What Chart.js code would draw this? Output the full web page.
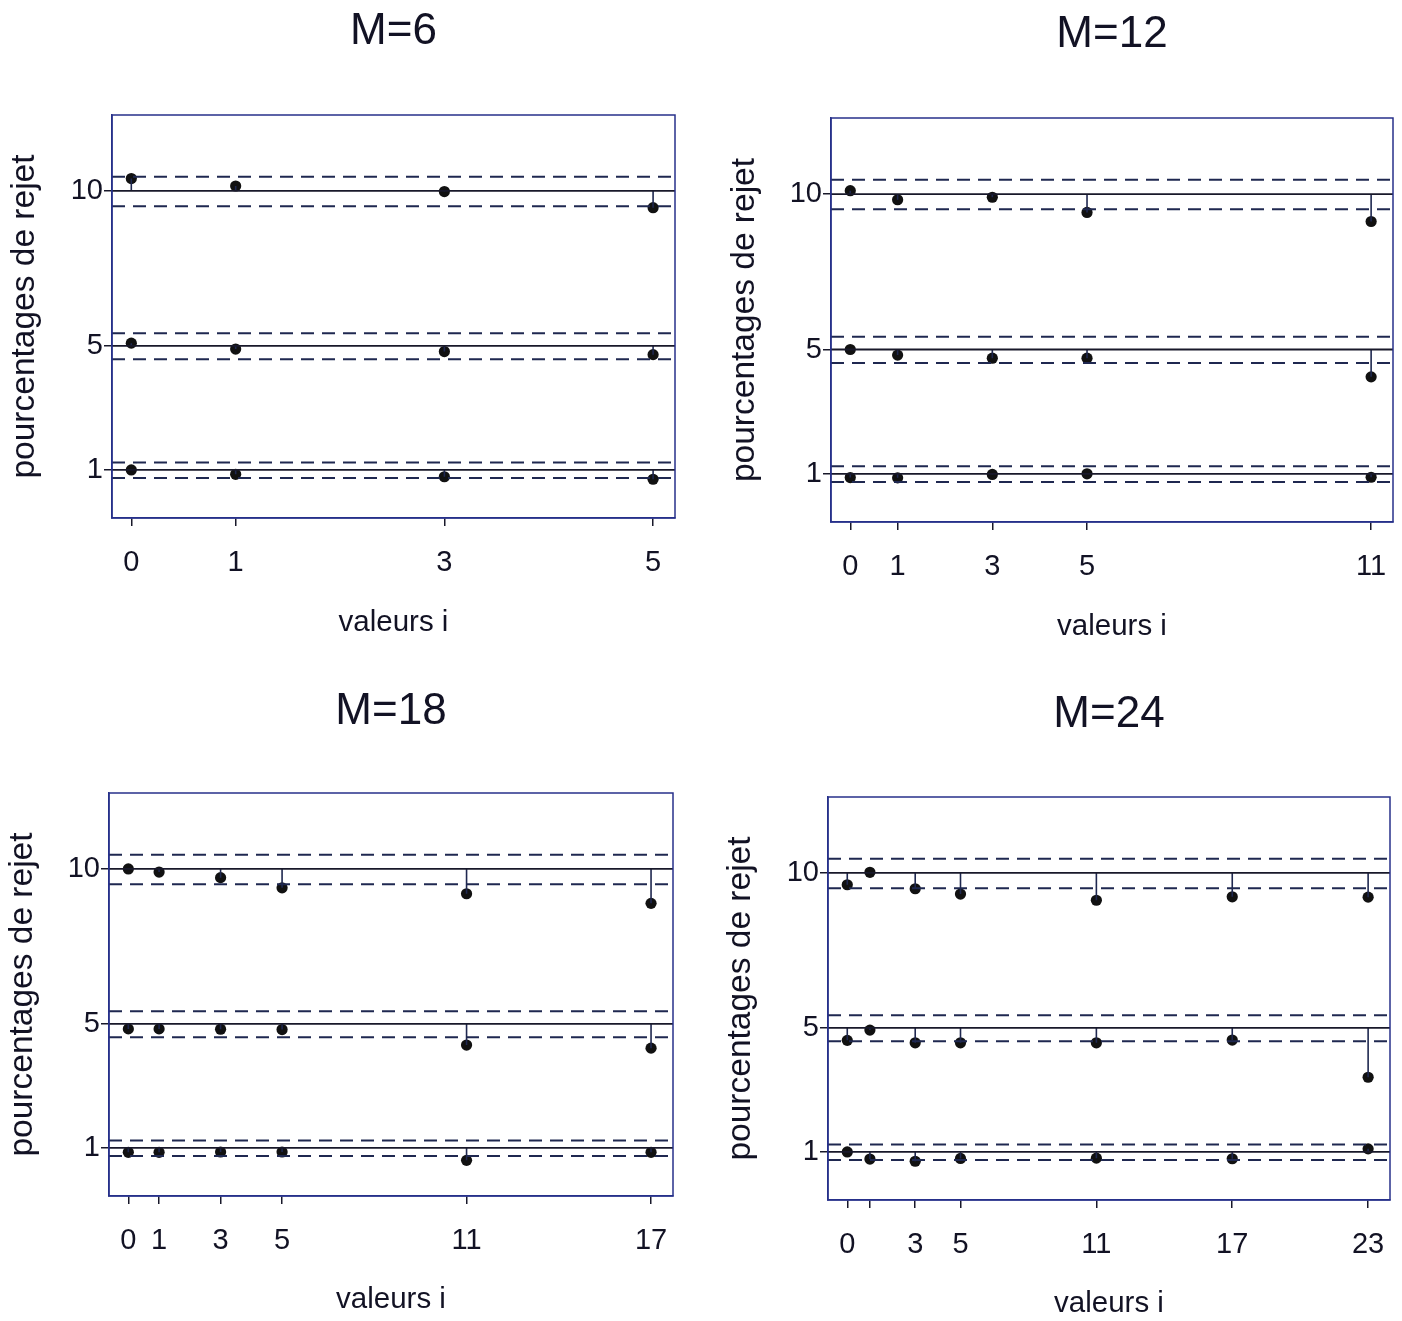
<!DOCTYPE html>
<html>
<head>
<meta charset="utf-8">
<script src="https://cdn.jsdelivr.net/npm/chart.js@4.4.1/dist/chart.umd.min.js"></script>
<style>
  html, body { margin: 0; padding: 0; background: #fff; overflow: hidden; width: 1402px; height: 1321px; }
  canvas { position: absolute; }
</style>
</head>
<body>
<canvas id="chartM6" width="787" height="660" style="left:0;top:0"></canvas>
<canvas id="chartM12" width="780" height="660" style="left:722px;top:0"></canvas>
<canvas id="chartM18" width="782" height="661" style="left:0;top:660px"></canvas>
<canvas id="chartM24" width="778" height="661" style="left:720px;top:660px"></canvas>
<script>
// nominal levels and their dashed bounds
const levels = [10, 5, 1];
const upperBounds = [10.46, 5.41, 1.24];
const lowerBounds = [9.51, 4.57, 0.74];
const yTicks = [1, 5, 10];

// M=6
const xM6 = [0, 1, 3, 5];
const labelsM6 = [0, 1, 3, 5];
const r10M6 = [10.40, 10.16, 9.98, 9.46];
const r5M6 = [5.09, 4.90, 4.82, 4.72];
const r1M6 = [1.00, 0.86, 0.78, 0.70];

// M=12
const xM12 = [0, 1, 3, 5, 11];
const labelsM12 = [0, 1, 3, 5, 11];
const r10M12 = [10.11, 9.82, 9.90, 9.41, 9.12];
const r5M12 = [5.00, 4.82, 4.72, 4.72, 4.12];
const r1M12 = [0.88, 0.87, 0.98, 1.00, 0.89];

// M=18
const xM18 = [0, 1, 3, 5, 11, 17];
const labelsM18 = [0, 1, 3, 5, 11, 17];
const r10M18 = [10.00, 9.90, 9.72, 9.39, 9.20, 8.89];
const r5M18 = [4.84, 4.84, 4.83, 4.82, 4.32, 4.22];
const r1M18 = [0.86, 0.86, 0.87, 0.87, 0.60, 0.86];

// M=24
const xM24 = [0, 1, 3, 5, 11, 17, 23];
const labelsM24 = [0, 3, 5, 11, 17, 23];
const r10M24 = [9.62, 10.02, 9.49, 9.32, 9.12, 9.23, 9.22];
const r5M24 = [4.60, 4.93, 4.52, 4.52, 4.52, 4.61, 3.41];
const r1M24 = [1.00, 0.77, 0.70, 0.79, 0.80, 0.78, 1.10];

const FONT = "'Liberation Sans', Arial, sans-serif";
const colors = {
  text: "#121224",
  frame: "#27318a",
  solid: "#18182a",
  dashed: "#1f2850",
  point: "#111111",
};

const framePlugin = {
  id: "frame",
  afterDraw(chart) {
    const { ctx, chartArea: a } = chart;
    ctx.save();
    ctx.strokeStyle = colors.frame;
    ctx.lineWidth = 1.5;
    ctx.strokeRect(a.left, a.top, a.right - a.left, a.bottom - a.top);
    ctx.restore();
  },
};

function makePanel(id, title, xs, xLabels, series, lay) {
  const last = xs[xs.length - 1];
  const xMin = -0.037 * last;
  const xMax = last * 1.042;
  const datasets = [];
  levels.forEach((lvl, k) => {
    const line = (y, dash, width) => ({
      data: [{ x: xMin, y: y }, { x: xMax, y: y }],
      borderColor: dash ? colors.dashed : colors.solid,
      borderWidth: width,
      borderDash: dash ? [13, 8] : [],
      pointRadius: 0,
    });
    datasets.push(line(lvl, false, 1.8));
    datasets.push(line(upperBounds[k], true, 2));
    datasets.push(line(lowerBounds[k], true, 2));
    const stems = [];
    xs.forEach((x, i) => {
      stems.push({ x: x, y: lvl }, { x: x, y: series[k][i] }, { x: x, y: null });
    });
    datasets.push({
      data: stems,
      borderColor: colors.dashed,
      borderWidth: 1.6,
      pointRadius: 0,
      spanGaps: false,
    });
    datasets.push({
      data: xs.map((x, i) => ({ x: x, y: series[k][i] })),
      showLine: false,
      pointRadius: 5.6,
      pointBackgroundColor: colors.point,
      pointBorderColor: colors.point,
      pointBorderWidth: 0,
    });
  });

  const tickGrid = { drawOnChartArea: false, drawTicks: true, tickLength: 8, color: colors.solid, lineWidth: 1.5 };

  new Chart(document.getElementById(id), {
    type: "line",
    data: { datasets },
    plugins: [framePlugin],
    options: {
      responsive: false,
      animation: false,
      devicePixelRatio: 1,
      layout: { padding: 0 },
      plugins: {
        legend: { display: false },
        tooltip: { enabled: false },
        title: {
          display: true,
          text: title,
          color: colors.text,
          font: { family: FONT, size: 44, weight: "normal", lineHeight: 1.2 },
          padding: { top: lay.tTop, bottom: lay.tBottom },
        },
      },
      scales: {
        x: {
          type: "linear",
          min: xMin,
          max: xMax,
          afterBuildTicks: (s) => { s.ticks = xs.map((v) => ({ value: v })); },
          afterFit: (s) => { s.height = lay.xH; },
          ticks: {
            color: colors.text,
            font: { family: FONT, size: 29 },
            padding: 19.5,
            maxRotation: 0,
            autoSkip: false,
            callback: (v) => (xLabels.includes(v) ? String(v) : ""),
          },
          grid: tickGrid,
          border: { display: true, color: colors.frame, width: 1.5 },
          title: {
            display: true,
            text: "valeurs i",
            color: colors.text,
            font: { family: FONT, size: 29.5, lineHeight: 1 },
            padding: { top: 0, bottom: lay.xtPad },
          },
        },
        y: {
          type: "linear",
          min: -0.55,
          max: 12.45,
          afterBuildTicks: (s) => { s.ticks = yTicks.map((v) => ({ value: v })); },
          afterFit: (s) => { s.width = lay.yW; },
          ticks: {
            color: colors.text,
            font: { family: FONT, size: 29 },
            padding: 1,
          },
          grid: tickGrid,
          border: { display: true, color: colors.frame, width: 1.5 },
          title: {
            display: true,
            text: "pourcentages de rejet",
            color: colors.text,
            font: { family: FONT, size: 33.5, lineHeight: 1 },
            padding: { top: lay.ytPad, bottom: 0 },
          },
        },
        // empty right-hand axis so the plot sits centred under its title
        yRight: {
          type: "linear",
          position: "right",
          min: 0,
          max: 1,
          afterFit: (s) => { s.width = lay.yW; },
          ticks: { display: false },
          grid: { display: false },
          border: { display: false },
        },
      },
    },
  });
}

makePanel("chartM6", "M=6", xM6, labelsM6, [r10M6, r5M6, r1M6],
  { yW: 112, xH: 142, tTop: 5, tBottom: 57.2, ytPad: 8, xtPad: 22.25 });
makePanel("chartM12", "M=12", xM12, labelsM12, [r10M12, r5M12, r1M12],
  { yW: 109, xH: 138, tTop: 8, tBottom: 57.2, ytPad: 6, xtPad: 18.25 });
makePanel("chartM18", "M=18", xM18, labelsM18, [r10M18, r5M18, r1M18],
  { yW: 109, xH: 125, tTop: 25.4, tBottom: 54.8, ytPad: 6, xtPad: 6.25 });
makePanel("chartM24", "M=24", xM24, labelsM24, [r10M24, r5M24, r1M24],
  { yW: 108, xH: 121, tTop: 28.4, tBottom: 55.8, ytPad: 4, xtPad: 2.25 });
</script>
</body>
</html>
